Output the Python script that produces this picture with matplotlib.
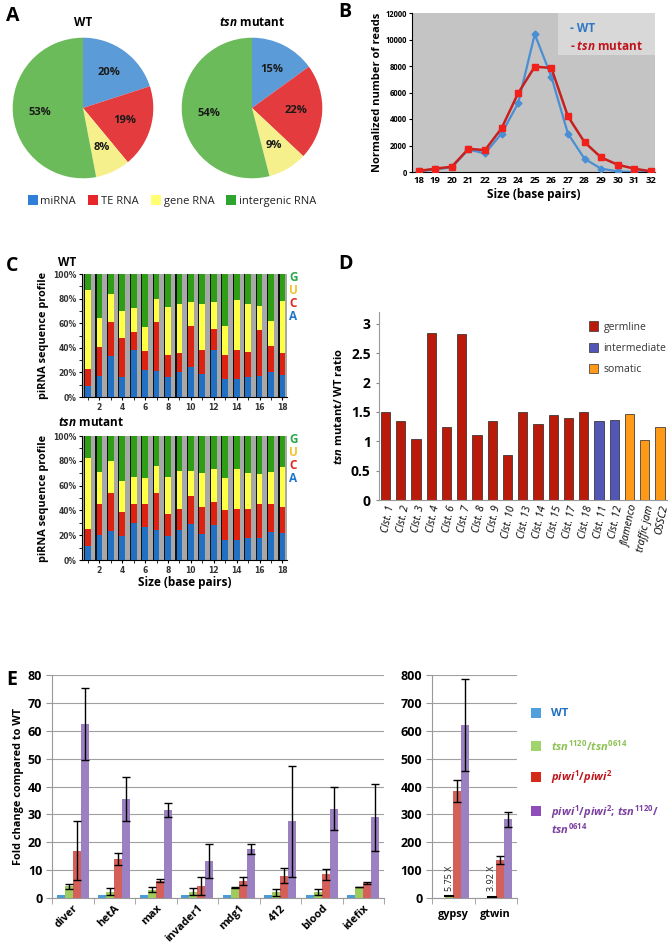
import numpy as np
import matplotlib
matplotlib.use("Agg")
import matplotlib.pyplot as plt
from matplotlib.patches import Patch, Rectangle

plt.rcParams['font.family'] = ['Open Sans', 'DejaVu Sans']
plt.rcParams['mathtext.fontset'] = 'custom'
plt.rcParams['mathtext.it'] = 'Open Sans:italic:bold'
plt.rcParams['mathtext.rm'] = 'Open Sans:bold'
plt.rcParams['mathtext.bf'] = 'Open Sans:bold'

# ---------------- data ----------------
# A: pies
pie_labels = ["miRNA", "TE RNA", "gene RNA", "intergenic RNA"]
pie_wt = [20, 19, 8, 53]
pie_tsn = [15, 22, 9, 54]

# B: size distribution
sizes_b = [18, 19, 20, 21, 22, 23, 24, 25, 26, 27, 28, 29, 30, 31, 32]
reads_wt = [50, 200, 350, 1700, 1400, 2900, 5200, 10400, 7200, 2900, 1000, 250, 50, 0, 0]
reads_tsn = [80, 250, 400, 1750, 1650, 3300, 5950, 7950, 7850, 4200, 2250, 1100, 550, 250, 50]

# C: nucleotide composition per position (%), A, C, U, G
positions_c = list(range(1, 19))
wt_A = [8.7, 17, 33, 16, 38, 22, 21, 16, 20, 24, 18.5, 38, 14.5, 15, 16, 17, 20, 18]
wt_C = [14.3, 24, 28, 32, 15, 15, 40, 18, 16, 34, 19.5, 17, 20, 23, 20.5, 37.5, 21.5, 18]
wt_U = [64, 23.5, 23, 22, 19, 20, 19, 39, 40, 19, 38, 22, 23.5, 41, 39, 19.5, 20.5, 42]
wt_G = [13, 35.5, 16, 30, 28, 43, 20, 27, 24, 23, 24, 23, 42, 21, 24.5, 26, 38, 22]
tsn_A = [11, 20, 23, 19, 29.5, 27, 24, 19, 24.5, 29, 21, 28.5, 16, 16.5, 18, 17.5, 22.5, 22]
tsn_C = [14, 25.5, 31, 20, 15.5, 18, 30, 18, 16.5, 23, 22, 18.5, 24.5, 24.5, 23, 27.5, 22.5, 20.5]
tsn_U = [57, 25.5, 26, 25, 22, 21.5, 22, 30, 30.5, 20, 27, 26, 25.5, 32.5, 29.5, 24, 26, 32.5]
tsn_G = [18, 29, 20, 36, 33, 33.5, 24, 33, 28.5, 28, 30, 27, 34, 26.5, 29.5, 31, 29, 25]

# D: cluster ratios
clusters = ["Clst. 1", "Clst. 2", "Clst. 3", "Clst. 4", "Clst. 6", "Clst. 7", "Clst. 8", "Clst. 9",
            "Clst. 10", "Clst. 13", "Clst. 14", "Clst. 15", "Clst. 17", "Clst. 18", "Clst. 11",
            "Clst. 12", "flamenco", "traffic jam", "OSSC2"]
ratios = [1.49, 1.35, 1.03, 2.85, 1.24, 2.83, 1.11, 1.34, 0.76, 1.49, 1.30, 1.45, 1.40, 1.49,
          1.35, 1.36, 1.47, 1.02, 1.25]
cluster_type = ["germline"] * 14 + ["intermediate"] * 2 + ["somatic"] * 3

# E: fold changes
te_left = ["diver", "hetA", "max", "invader1", "mdg1", "412", "blood", "idefix"]
fc_wt_l = [1, 1, 1, 1, 1, 1, 1, 1]
fc_tsn_l = [4.3, 2.3, 3.0, 2.3, 3.7, 2.0, 2.0, 3.9]
fc_piwi_l = [17, 14, 6.2, 4.2, 6.0, 8.0, 8.5, 5.5]
fc_dbl_l = [62.5, 35.5, 31.5, 13.3, 17.5, 27.5, 32, 29]
err_tsn_l = [0.9, 1.2, 1.0, 1.3, 0.2, 1.2, 1.1, 0.1]
err_piwi_l = [10.7, 2.0, 0.5, 3.2, 1.5, 2.6, 2.0, 0.3]
err_dbl_l = [13, 8, 2.5, 6, 1.8, 19.8, 7.7, 12]

te_right = ["gypsy", "gtwin"]
fc_wt_r = [1, 1]
fc_tsn_r = [5.75, 3.92]
fc_piwi_r = [385, 137]
fc_dbl_r = [620, 282]
err_piwi_r = [40, 15]
err_dbl_r = [165, 28]

# ---------------- figure ----------------
W, H = 670, 952
fig = plt.figure(figsize=(W / 100, H / 100), dpi=100)


def box(x0, y0, x1, y1):
    return [x0 / W, 1 - y1 / H, (x1 - x0) / W, (y1 - y0) / H]


def ftext(x, y, s, **kw):
    fig.text(x / W, 1 - y / H, s, **kw)


# panel letters
for lab, (x, y) in {"A": (6, 16), "B": (338, 12), "C": (6, 266), "D": (338, 264), "E": (6, 680)}.items():
    ftext(x, y, lab, fontsize=14, fontweight='bold', va='center', ha='left')

# ---------------- A ----------------
pie_cols = ['#5B9BD8', '#E43B3E', '#F6F08C', '#6CBB5A']
for vals, cx, title in [(pie_wt, 83, "WT"), (pie_tsn, 252, r"$tsn$ mutant")]:
    r = 71
    ax = fig.add_axes(box(cx - r, 108 - r, cx + r, 108 + r))
    ax.pie(vals, colors=pie_cols, startangle=90, counterclock=False,
           autopct=lambda p: f"{p:.0f}%", pctdistance=0.62,
           textprops=dict(fontsize=8, fontweight='bold', color='#1a1a1a'))
    ax.set_xlim(-1.01, 1.01)
    ax.set_ylim(-1.01, 1.01)
    ax.set_aspect('equal')
    ftext(cx, 22, title, ha='center', va='center', fontsize=8.5, fontweight='bold')

leg_cols = ['#2F7ED8', '#E5262A', '#FFFF70', '#2EA52E']
handles = [Patch(facecolor=c, edgecolor='none') for c in leg_cols]
fig.legend(handles, pie_labels, loc='center', bbox_to_anchor=(172 / W, 1 - 201 / H), ncol=4,
           frameon=False, fontsize=8, handlelength=0.9, handleheight=0.9, handletextpad=0.25,
           columnspacing=1.1, labelcolor='#222222')

# ---------------- B ----------------
axb = fig.add_axes(box(412, 13, 655, 172))
axb.set_facecolor('#C4C4C4')
axb.plot(sizes_b, reads_wt, color='#4A8FD3', lw=1.6, marker='D', ms=3.5, zorder=3)
axb.plot(sizes_b, reads_tsn, color='#C8201E', lw=1.8, marker='s', ms=5,
         markerfacecolor='#F0201A', markeredgecolor='#F0201A', zorder=4)
axb.set_xlim(17.6, 32.25)
axb.set_ylim(0, 12000)
axb.set_yticks(np.arange(0, 12001, 2000))
axb.set_xticks(sizes_b)
axb.tick_params(axis='y', labelsize=5.5, length=2, pad=1.5)
axb.tick_params(axis='x', labelsize=6.8, length=0, pad=3)
for t in axb.get_xticklabels() + axb.get_yticklabels():
    t.set_fontweight('bold')
for s in ['top', 'right']:
    axb.spines[s].set_visible(False)
axb.set_xlabel("Size (base pairs)", fontsize=8.5, fontweight='bold', labelpad=2)
axb.set_ylabel("Normalized number of reads", fontsize=8, fontweight='bold', labelpad=2)
axb.add_patch(Rectangle((0.6, 0.735), 0.4, 0.265, transform=axb.transAxes,
                        facecolor='#D8D8D8', edgecolor='none', zorder=2))
axb.text(0.65, 0.905, "- WT", transform=axb.transAxes, color='#2E78C4', fontsize=8.5,
         fontweight='bold', va='center', zorder=5)
axb.text(0.65, 0.79, r"- $tsn$ mutant", transform=axb.transAxes, color='#C0141C', fontsize=8.5,
         fontweight='bold', va='center', zorder=5)

# ---------------- C ----------------
nuc_cols = ['#2270C4', '#DD2211', '#FFFF44', '#2E9E14']
letter_cols = ['#2BA84A', '#F2C230', '#E0261C', '#1F77C8']
for (y0, y1, A, C, U, G, title, tity, show_xlabel) in [
        (274, 397, wt_A, wt_C, wt_U, wt_G, "WT", 262, False),
        (436, 560, tsn_A, tsn_C, tsn_U, tsn_G, r"$tsn$ mutant", 422, True)]:
    ax = fig.add_axes(box(82, y0, 287, y1))
    ax.set_facecolor('#A8A8A8')
    x = np.array(positions_c, dtype=float)
    tot = np.array(A) + np.array(C) + np.array(U) + np.array(G)
    ax.bar(x - 0.1, tot, width=0.5, color='#111111', zorder=2)
    bottom = np.zeros(len(x))
    for vals, col in zip([A, C, U, G], nuc_cols):
        ax.bar(x, vals, bottom=bottom, width=0.5, color=col, zorder=3)
        bottom += np.array(vals)
    ax.set_xlim(0.48, 18.4)
    ax.set_ylim(0, 100)
    ax.set_yticks(np.arange(0, 101, 20))
    ax.set_yticklabels([f"{v}%" for v in range(0, 101, 20)])
    ax.set_yticks(np.arange(10, 100, 20), minor=True)
    ax.set_xticks(np.arange(2, 19, 2))
    ax.set_xticks(np.arange(1, 19, 2), minor=True)
    ax.tick_params(which='both', labelsize=5.5, length=2.5, pad=1.5, labelcolor='#333333')
    ax.tick_params(which='minor', length=2)
    for t in ax.get_xticklabels() + ax.get_yticklabels():
        t.set_fontfamily('DejaVu Sans')
        t.set_fontweight('bold')
    for s in ['top', 'right']:
        ax.spines[s].set_visible(False)
    ax.set_ylabel("piRNA sequence profile", fontsize=7.8, fontweight='bold', labelpad=3)
    if show_xlabel:
        ax.set_xlabel("Size (base pairs)", fontsize=8.5, fontweight='bold', labelpad=1)
    ftext(58, tity, title, fontsize=8.5, fontweight='bold', va='center', ha='left')
    for i, (letter, col) in enumerate(zip("GUCA", letter_cols)):
        ax.text(1.012, 0.97 - i * 0.105, letter, transform=ax.transAxes, color=col,
                fontsize=8.5, fontweight='bold', va='center', ha='left')

# ---------------- D ----------------
type_cols = {"germline": '#BA1A0A', "intermediate": '#5257B7', "somatic": '#FF9A18'}
axd = fig.add_axes(box(379, 312, 667, 500))
xd = np.arange(len(clusters))
axd.bar(xd, ratios, width=0.6, color=[type_cols[t] for t in cluster_type],
        edgecolor='#222222', linewidth=0.5)
axd.set_xlim(-0.43, len(clusters) - 0.54)
axd.set_ylim(0, 3.2)
axd.set_yticks(np.arange(0, 3.01, 0.5))
axd.set_yticklabels(["0", "0.5", "1", "1.5", "2", "2.5", "3"])
axd.tick_params(axis='y', labelsize=10, length=2, pad=4, color='#888888')
for t in axd.get_yticklabels():
    t.set_fontweight('bold')
axd.set_xticks(xd)
axd.set_xticklabels(clusters, rotation=78, ha='right', rotation_mode='anchor',
                    fontsize=7.5, fontstyle='italic')
axd.tick_params(axis='x', length=0, pad=3)
for s in ['top', 'right']:
    axd.spines[s].set_visible(False)
axd.spines['left'].set_color('#999999')
axd.spines['bottom'].set_color('#999999')
axd.set_ylabel(r"$tsn$ mutant/ WT ratio", fontsize=8, fontweight='bold', labelpad=4)
axd.legend([Patch(facecolor=c, edgecolor='#333333', linewidth=0.5) for c in type_cols.values()],
           list(type_cols.keys()), loc='upper right', bbox_to_anchor=(1.03, 1.0), frameon=False,
           fontsize=7.5, handlelength=0.9, handleheight=1.0, labelspacing=0.95,
           handletextpad=0.5, labelcolor='#333333')

# ---------------- E ----------------
e_cols = ['#4A9BD6', '#9DCB5E', '#D5605A', '#9B80C2']


def draw_e(ax, cats, series, errs):
    x = np.arange(len(cats))
    w = 0.19
    for k, (vals, col) in enumerate(zip(series, e_cols)):
        e = errs[k]
        ax.bar(x + (k - 1.5) * w, vals, width=w, color=col, zorder=3,
               yerr=e, error_kw=dict(ecolor='black', elinewidth=1, capsize=3, capthick=1, zorder=4))
    ax.set_xlim(-0.5, len(cats) - 0.5)
    ax.grid(axis='y', color='#A0A0A0', lw=0.8, zorder=0)
    ax.set_axisbelow(True)
    for s in ['top', 'right']:
        ax.spines[s].set_visible(False)
    ax.spines['left'].set_color('#999999')
    ax.spines['bottom'].set_color('#999999')
    ax.set_xticks(x)
    ax.set_xticks(np.arange(len(cats) + 1) - 0.5, minor=True)
    ax.tick_params(axis='x', which='major', length=0)
    ax.tick_params(axis='x', which='minor', length=4, color='#999999')
    ax.tick_params(axis='y', length=4, color='#999999', labelsize=9, pad=3)
    for t in ax.get_yticklabels():
        t.set_fontweight('bold')
    return x


axel = fig.add_axes(box(52, 675, 384, 898))
draw_e(axel, te_left, [fc_wt_l, fc_tsn_l, fc_piwi_l, fc_dbl_l],
       [None, err_tsn_l, err_piwi_l, err_dbl_l])
axel.set_ylim(0, 80)
axel.set_yticks(np.arange(0, 81, 10))
axel.set_xticklabels(te_left, rotation=45, ha='right', rotation_mode='anchor',
                     fontsize=7.8, fontweight='bold')
axel.set_ylabel("Fold change compared to WT", fontsize=7.8, fontweight='bold', labelpad=3)

axer = fig.add_axes(box(432, 675, 517, 898))
xr = draw_e(axer, te_right, [fc_wt_r, fc_tsn_r, fc_piwi_r, fc_dbl_r],
            [None, None, err_piwi_r, err_dbl_r])
axer.set_ylim(0, 800)
axer.set_yticks(np.arange(0, 801, 100))
axer.set_xticklabels(te_right, fontsize=7.8, fontweight='bold')
axer.tick_params(axis='x', pad=8)
for i, v in enumerate(fc_tsn_r):
    axer.text(xr[i] - 0.5 * 0.19, v + 20, f"{v:.2f} X", rotation=90, ha='center', va='bottom',
              fontsize=6.5, color='#222222')
    axer.plot([xr[i] - 0.5 * 0.19 - 0.09, xr[i] - 0.5 * 0.19 + 0.09], [v, v], color='black',
              lw=1.5, zorder=5)

# legend E
leg_items = [("WT", '#4FA0DC', '#1F6FC0'),
             (r"$tsn^{1120}/tsn^{0614}$", '#A0D46C', '#8CC152'),
             (r"$piwi^{1}/piwi^{2}$", '#D42A1A', '#C0141C'),
             (r"$piwi^{1}/piwi^{2}$; $tsn^{1120}/$" + "\n" + r"$tsn^{0614}$", '#8E4DB8', '#7B3FA0')]
for i, (lab, sq, tc) in enumerate(leg_items):
    y = [713, 746, 777, 811][i]
    fig.patches.append(Rectangle((531 / W, 1 - (y + 5) / H), 10 / W, 10 / H, facecolor=sq,
                                 edgecolor='none', transform=fig.transFigure, figure=fig))
    if i == 3:
        ftext(551, y - 8, lab, fontsize=8, fontweight='bold', color=tc, va='top',
              ha='left', linespacing=1.1)
    else:
        ftext(551, y, lab, fontsize=8, fontweight='bold', color=tc, va='center', ha='left')

fig.savefig("out.png", dpi=100)
